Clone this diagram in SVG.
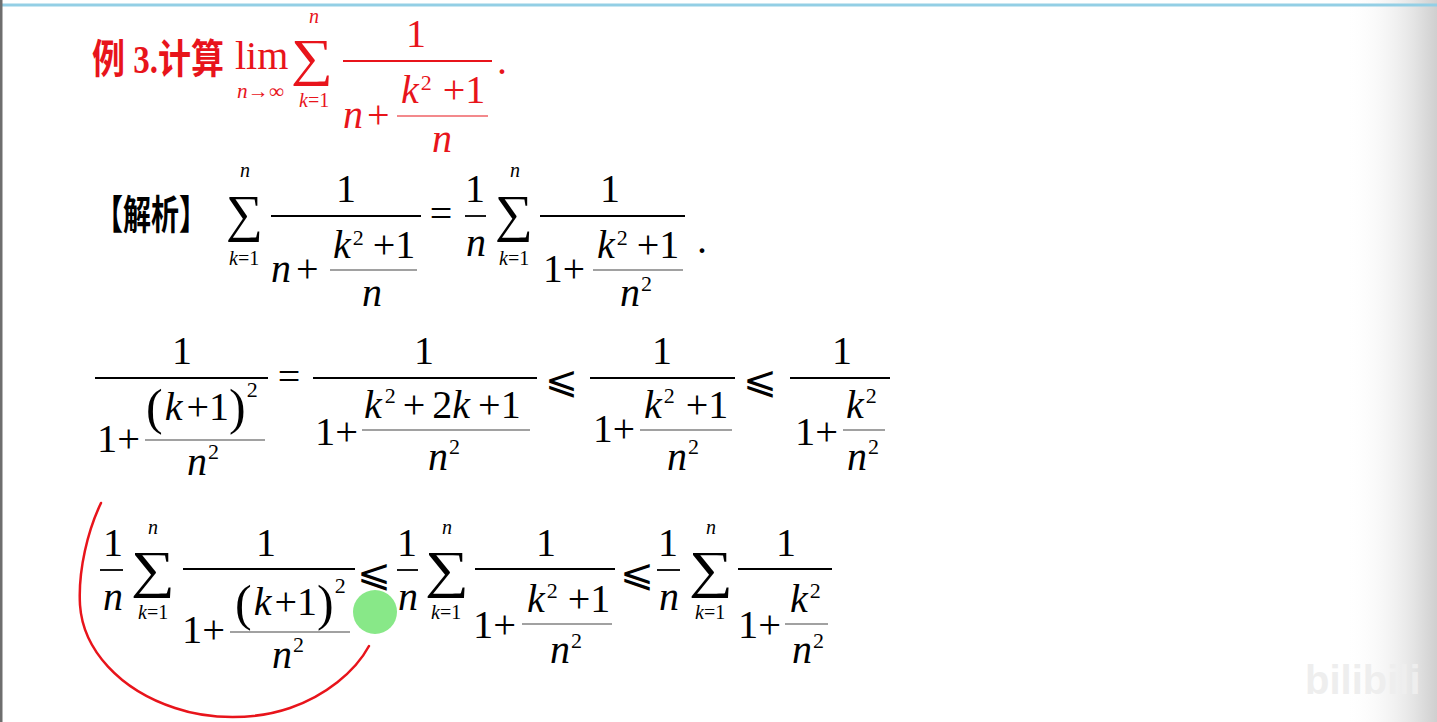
<svg xmlns="http://www.w3.org/2000/svg" width="1437" height="722" viewBox="0 0 1437 722">
<defs>
<linearGradient id="shade" x1="0" y1="0" x2="1" y2="0">
<stop offset="0" stop-color="#ffffff" stop-opacity="0"/>
<stop offset="0.75" stop-color="#e4e4e4" stop-opacity="1"/>
<stop offset="1" stop-color="#cfcfcf" stop-opacity="1"/>
</linearGradient>
<style>
text { font-family: "Liberation Serif", "Times New Roman", serif; font-size: 40px; fill: #000; }
.i { font-style: italic; }
.sup { font-size: 22px; }
.lim { font-size: 20px; }
.sig { font-size: 52px; }
.par { font-size: 50px; }
.c { text-anchor: middle; }
.cjk { font-family: "Liberation Serif", "Noto Sans CJK SC", sans-serif; font-weight: bold; }
.le { font-family: "DejaVu Sans", "DejaVu Serif", sans-serif; font-size: 38px; }
.bar { stroke: #000; stroke-width: 1.8; }
.ib { stroke: #444; stroke-width: 1.1; }
.red text { fill: #e8141b; }
.red .bar, .red .ib { stroke: #e8141b; }
</style>
</defs>

<g id="frame">
<rect x="0" y="0" width="1437" height="722" fill="#ffffff"/>
<rect x="1345" y="0" width="92" height="722" fill="url(#shade)"/>
<rect x="0" y="3.5" width="1437" height="3" fill="#93cfe5"/>
<rect x="0" y="0" width="2.5" height="722" fill="#6e6e6e"/>
</g>

<g id="title" class="red">
<text class="cjk" x="92" y="73" font-size="32" textLength="132" lengthAdjust="spacingAndGlyphs">例 3.计算</text>
<text x="235" y="69">lim</text>
<text class="lim" x="237" y="98" font-size="18" textLength="47" lengthAdjust="spacingAndGlyphs"><tspan class="i">n</tspan>→∞</text>
<text class="sig" x="291" y="75" textLength="42" lengthAdjust="spacingAndGlyphs">∑</text>
<text class="lim i" x="309" y="23">n</text>
<text class="lim" x="299" y="107"><tspan class="i">k</tspan>=1</text>
<line class="bar" x1="343" y1="61" x2="492" y2="61"/>
<text class="c" x="416" y="47">1</text>
<text class="i" x="343" y="128">n</text>
<text x="367" y="128">+</text>
<line class="ib" x1="397" y1="116" x2="488" y2="116"/>
<text x="401" y="103"><tspan class="i">k</tspan><tspan class="sup" dx="2" dy="-13">2</tspan><tspan dx="11" dy="13">+1</tspan></text>
<text class="i c" x="442" y="152">n</text>
<text x="497" y="74">.</text>
</g>

<g id="step1">
<text class="cjk" x="95" y="229" font-size="28" textLength="112" lengthAdjust="spacingAndGlyphs">【解析】</text>
<text class="sig" x="226" y="231" textLength="37" lengthAdjust="spacingAndGlyphs">∑</text>
<text class="lim i" x="240" y="177">n</text>
<text class="lim" x="229" y="265"><tspan class="i">k</tspan>=1</text>
<line class="bar" x1="271" y1="216" x2="421" y2="216"/>
<text class="c" x="346" y="202">1</text>
<text class="i" x="271" y="282">n</text>
<text x="296" y="282">+</text>
<line class="ib" x1="330" y1="270" x2="417" y2="270"/>
<text x="333" y="258"><tspan class="i">k</tspan><tspan class="sup" dx="2" dy="-13">2</tspan><tspan dx="9" dy="13">+1</tspan></text>
<text class="i c" x="372" y="306">n</text>
<text class="c" x="441" y="227">=</text>
<text class="c" x="475" y="202">1</text>
<line class="bar" x1="465" y1="216" x2="486" y2="216"/>
<text class="i c" x="476" y="256">n</text>
<text class="sig" x="495" y="231" textLength="38" lengthAdjust="spacingAndGlyphs">∑</text>
<text class="lim i" x="510" y="177">n</text>
<text class="lim" x="499" y="265"><tspan class="i">k</tspan>=1</text>
<line class="bar" x1="540" y1="216" x2="685" y2="216"/>
<text class="c" x="610" y="202">1</text>
<text x="543" y="282" textLength="42" lengthAdjust="spacingAndGlyphs">1+</text>
<line class="ib" x1="593" y1="270" x2="683" y2="270"/>
<text x="597" y="258"><tspan class="i">k</tspan><tspan class="sup" dx="2" dy="-13">2</tspan><tspan dx="9" dy="13">+1</tspan></text>
<text x="620" y="306"><tspan class="i">n</tspan><tspan class="sup" dx="1" dy="-15">2</tspan></text>
<text x="697" y="253">.</text>
</g>

<g id="step2">
<line class="bar" x1="95" y1="378" x2="268" y2="378"/>
<text class="c" x="182" y="364">1</text>
<text x="97" y="452" textLength="43" lengthAdjust="spacingAndGlyphs">1+</text>
<text x="146" y="424"><tspan class="par">(</tspan><tspan class="i" dx="2" dy="-4">k</tspan><tspan dx="4">+</tspan><tspan>1</tspan><tspan class="par" dy="4">)</tspan><tspan class="sup" dx="1" dy="-27">2</tspan></text>
<line class="ib" x1="145" y1="440" x2="265" y2="440"/>
<text x="187" y="475"><tspan class="i">n</tspan><tspan class="sup" dx="1" dy="-16">2</tspan></text>

<text class="c" x="289" y="390">=</text>

<line class="bar" x1="313" y1="378" x2="537" y2="378"/>
<text class="c" x="424" y="364">1</text>
<text x="315" y="445" textLength="43" lengthAdjust="spacingAndGlyphs">1+</text>
<line class="ib" x1="362" y1="430" x2="530" y2="430"/>
<text x="364" y="418"><tspan class="i">k</tspan><tspan class="sup" dx="3" dy="-15">2</tspan><tspan dx="7" dy="15">+</tspan><tspan dx="7">2</tspan><tspan class="i">k</tspan><tspan dx="8">+1</tspan></text>
<text x="428" y="470"><tspan class="i">n</tspan><tspan class="sup" dx="1" dy="-16">2</tspan></text>

<text class="le" x="545" y="393" textLength="33" lengthAdjust="spacingAndGlyphs">⩽</text>

<line class="bar" x1="590" y1="378" x2="735" y2="378"/>
<text class="c" x="662" y="364">1</text>
<text x="593" y="442" textLength="42" lengthAdjust="spacingAndGlyphs">1+</text>
<line class="ib" x1="640" y1="430" x2="732" y2="430"/>
<text x="644" y="418"><tspan class="i">k</tspan><tspan class="sup" dx="2" dy="-15">2</tspan><tspan dx="11" dy="15">+1</tspan></text>
<text x="667" y="470"><tspan class="i">n</tspan><tspan class="sup" dx="1" dy="-16">2</tspan></text>

<text class="le" x="743" y="393" textLength="34" lengthAdjust="spacingAndGlyphs">⩽</text>

<line class="bar" x1="790" y1="378" x2="890" y2="378"/>
<text class="c" x="842" y="364">1</text>
<text x="795" y="445" textLength="43" lengthAdjust="spacingAndGlyphs">1+</text>
<line class="ib" x1="843" y1="430" x2="885" y2="430"/>
<text x="846" y="418"><tspan class="i">k</tspan><tspan class="sup" dx="2" dy="-15">2</tspan></text>
<text x="847" y="470"><tspan class="i">n</tspan><tspan class="sup" dx="1" dy="-16">2</tspan></text>
</g>

<g id="step3">
<text class="c" x="113" y="556">1</text>
<line class="bar" x1="100" y1="570" x2="123" y2="570"/>
<text class="i c" x="113" y="610">n</text>
<text class="sig" x="131" y="587" textLength="44" lengthAdjust="spacingAndGlyphs">∑</text>
<text class="lim i" x="148" y="534">n</text>
<text class="lim" x="138" y="619"><tspan class="i">k</tspan>=1</text>
<line class="bar" x1="183" y1="569" x2="355" y2="569"/>
<text class="c" x="266" y="556">1</text>
<text x="182" y="643" textLength="43" lengthAdjust="spacingAndGlyphs">1+</text>
<text x="235" y="620"><tspan class="par">(</tspan><tspan class="i" dx="2" dy="-5">k</tspan><tspan dx="3">+</tspan><tspan>1</tspan><tspan class="par" dy="5">)</tspan><tspan class="sup" dx="1" dy="-27">2</tspan></text>
<line class="ib" x1="230" y1="632" x2="350" y2="632"/>
<text x="272" y="668"><tspan class="i">n</tspan><tspan class="sup" dx="1" dy="-16">2</tspan></text>

<text class="le" x="357" y="586" textLength="34" lengthAdjust="spacingAndGlyphs">⩽</text>

<text class="c" x="407" y="556">1</text>
<line class="bar" x1="397" y1="570" x2="418" y2="570"/>
<text class="i c" x="408" y="610">n</text>
<text class="sig" x="425" y="587" textLength="44" lengthAdjust="spacingAndGlyphs">∑</text>
<text class="lim i" x="442" y="534">n</text>
<text class="lim" x="431" y="619"><tspan class="i">k</tspan>=1</text>
<line class="bar" x1="475" y1="569" x2="615" y2="569"/>
<text class="c" x="546" y="556">1</text>
<text x="473" y="638" textLength="43" lengthAdjust="spacingAndGlyphs">1+</text>
<line class="ib" x1="522" y1="624" x2="612" y2="624"/>
<text x="527" y="612"><tspan class="i">k</tspan><tspan class="sup" dx="2" dy="-14">2</tspan><tspan dx="10" dy="14">+1</tspan></text>
<text x="550" y="663"><tspan class="i">n</tspan><tspan class="sup" dx="1" dy="-15">2</tspan></text>

<text class="le" x="620" y="586" textLength="34" lengthAdjust="spacingAndGlyphs">⩽</text>

<text class="c" x="668" y="556">1</text>
<line class="bar" x1="657" y1="570" x2="680" y2="570"/>
<text class="i c" x="669" y="610">n</text>
<text class="sig" x="689" y="587" textLength="44" lengthAdjust="spacingAndGlyphs">∑</text>
<text class="lim i" x="706" y="534">n</text>
<text class="lim" x="695" y="619"><tspan class="i">k</tspan>=1</text>
<line class="bar" x1="738" y1="569" x2="832" y2="569"/>
<text class="c" x="786" y="556">1</text>
<text x="738" y="638" textLength="43" lengthAdjust="spacingAndGlyphs">1+</text>
<line class="ib" x1="785" y1="624" x2="828" y2="624"/>
<text x="790" y="612"><tspan class="i">k</tspan><tspan class="sup" dx="2" dy="-14">2</tspan></text>
<text x="792" y="663"><tspan class="i">n</tspan><tspan class="sup" dx="1" dy="-15">2</tspan></text>
</g>

<g id="annotation">
<path d="M101,503 C88,530 78,570 80,605 C83,650 120,690 175,708 C210,720 255,720 290,708 C325,696 355,672 369,646" fill="none" stroke="#e8141b" stroke-width="2.5" stroke-linecap="round"/>
<circle cx="375" cy="612" r="22" fill="#88e888"/>
</g>

<g id="watermark">
<text x="1305" y="694" font-size="40" font-weight="bold" style="font-family:'Liberation Sans',sans-serif;fill:#eeeeee">bilibili</text>
</g>
</svg>
